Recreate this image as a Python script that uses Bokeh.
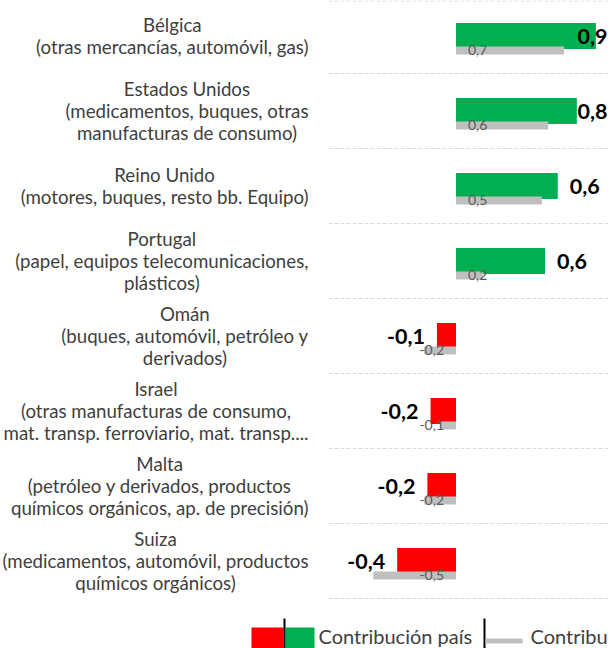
from bokeh.plotting import figure
from bokeh.models import Range1d, ColumnDataSource
from bokeh.core.properties import value
from bokeh.embed import file_html
from bokeh.resources import INLINE

# ---- data ----
paises = ["Bélgica", "Estados Unidos", "Reino Unido", "Portugal",
          "Omán", "Israel", "Malta", "Suiza"]
productos = [
    "(otras mercancías, automóvil, gas)",
    "(medicamentos, buques, otras\nmanufacturas de consumo)",
    "(motores, buques, resto bb. Equipo)",
    "(papel, equipos telecomunicaciones,\nplásticos)",
    "(buques, automóvil, petróleo y\nderivados)",
    "(otras manufacturas de consumo,\nmat. transp. ferroviario, mat. transp....",
    "(petróleo y derivados, productos\nquímicos orgánicos, ap. de precisión)",
    "(medicamentos, automóvil, productos\nquímicos orgánicos)",
]
contribucion_pais = [0.88, 0.76, 0.64, 0.56, -0.12, -0.16, -0.18, -0.37]
contribucion_2 = [0.68, 0.58, 0.54, 0.17, -0.20, -0.10, -0.20, -0.52]
legend_labels = ["Contribución país", "Contribu"]

# ---- layout helpers (pixel -> data) ----
W, H = 608, 648
ZERO_PX = 455.5          # zero position inside the figure
SX = 159.0               # px per unit on x
SY = 75.0                # px per category band
TOP = -35.5 / SY         # data y at top of the figure

def px2x(px):
    return (px - ZERO_PX) / SX

def py2y(py):
    return TOP + py / SY

def fmt(v):
    return f"{v:.1f}".replace(".", ",")

FONT = "Lato"
GREEN, RED, GREY = "#00B050", "#FF0000", "#BFBFBF"

p = figure(width=W, height=H, output_backend="svg", toolbar_location=None,
           x_range=Range1d(px2x(0), px2x(W)),
           y_range=Range1d(py2y(H), py2y(0)),
           min_border=0)
p.axis.visible = False
p.grid.visible = False
p.outline_line_color = None
p.background_fill_color = "white"
p.border_fill_color = "white"

n = len(paises)
idx = list(range(n))

# separators between categories (dashed)
sep_y = [i - 0.5 for i in idx] + [n - 0.5]
sep_y[0] = py2y(0.5)
p.segment(x0=[px2x(328)] * (n + 1), x1=[px2x(W)] * (n + 1), y0=sep_y, y1=sep_y,
          line_color="#D9D9D9", line_width=1, line_dash="4 2")

# main bars
colors = [GREEN if v >= 0 else RED for v in contribucion_pais]
src = ColumnDataSource(dict(y=idx, v=contribucion_pais, c=colors))
p.hbar(y="y", left=0, right="v", height=0.347, fill_color="c", line_color=None, source=src)

# grey bars
y_grey = [i + 0.193 for i in idx]
p.hbar(y=y_grey, left=0, right=contribucion_2, height=0.107,
       fill_color=GREY, line_color=None)

# bold labels (outside end; kept within plot)
xmax = px2x(W)
lab_x, lab_align = [], []
for v in contribucion_pais:
    if v >= 0:
        x = v + 12 / SX
        lim = xmax - 31 / SX
        lab_x.append(min(x, lim))
        lab_align.append("left")
    else:
        lab_x.append(v - 12 / SX)
        lab_align.append("right")
p.text(x=lab_x, y=idx, text=[fmt(v) for v in contribucion_pais],
       text_align=lab_align, text_baseline="middle",
       text_font=value(FONT), text_font_style="bold", text_font_size="21.5px",
       text_color="black")

# grey labels (inside base)
g_x = [(12 if v >= 0 else -12) / SX for v in contribucion_2]
g_align = ["left" if v >= 0 else "right" for v in contribucion_2]
p.text(x=g_x, y=y_grey, text=[fmt(v) for v in contribucion_2],
       text_align=g_align, text_baseline="middle",
       text_font=value(FONT), text_font_size="14px", text_color="#595959")

# category labels
cat_text = [a + "\n" + b for a, b in zip(paises, productos)]
p.text(x=[px2x(308)] * n, y=idx, text=cat_text,
       anchor="center_right", text_align="center", text_baseline="middle",
       text_font=value(FONT), text_font_size="18.7px", text_color="#404040",
       text_line_height=1.02)

# ---- legend (bottom) ----
p.quad(left=[px2x(251)], right=[px2x(283)], top=[py2y(627)], bottom=[py2y(648)],
       fill_color=RED, line_color=None)
p.quad(left=[px2x(285)], right=[px2x(314)], top=[py2y(627)], bottom=[py2y(648)],
       fill_color=GREEN, line_color=None)
p.segment(x0=[px2x(284), px2x(484)], x1=[px2x(284), px2x(484)],
          y0=[py2y(618)] * 2, y1=[py2y(648)] * 2,
          line_color="black", line_width=2)
p.segment(x0=[px2x(485)], x1=[px2x(522)], y0=[py2y(640.5)], y1=[py2y(640.5)],
          line_color=GREY, line_width=5)
p.text(x=[px2x(318), px2x(530)], y=[py2y(635), py2y(635)], text=legend_labels,
       text_align="left", text_baseline="middle",
       text_font=value(FONT), text_font_size="20px", text_color="#404040")

open("out.html", "w").write(file_html(p, INLINE))
